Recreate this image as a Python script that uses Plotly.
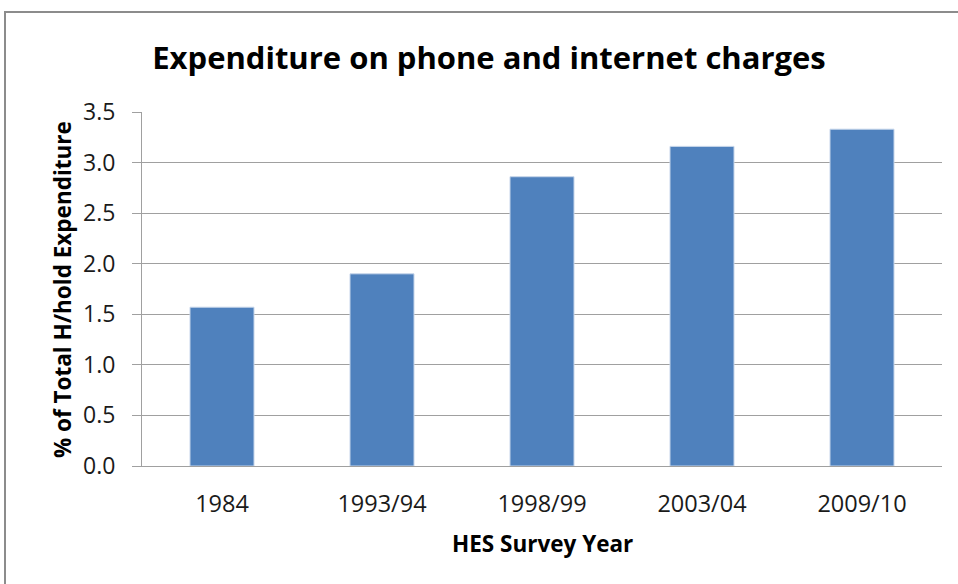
import plotly.graph_objects as go

# Survey years and share of total household expenditure (%)
years = ["1984", "1993/94", "1998/99", "2003/04", "2009/10"]
share_pct = [1.57, 1.90, 2.86, 3.16, 3.33]
y_ticks = [0.0, 0.5, 1.0, 1.5, 2.0, 2.5, 3.0, 3.5]

FONT = "Open Sans, sans-serif"
BAR = "#4F81BD"
GRID = "#a0a0a0"

fig = go.Figure(
    go.Bar(
        x=years,
        y=share_pct,
        marker=dict(color=BAR, line=dict(color="#c6d5ea", width=1)),
        hoverinfo="x+y",
    )
)

fig.update_layout(
    width=958,
    height=584,
    margin=dict(l=142, r=16, t=112, b=118),
    paper_bgcolor="white",
    plot_bgcolor="white",
    bargap=0.6,
    showlegend=False,
    title=dict(
        text="<b>Expenditure on phone and internet charges</b>",
        font=dict(family=FONT, size=31, color="black"),
        x=489 / 958,
        xanchor="center",
        xref="container",
        y=1 - 58 / 584,
        yref="container",
        yanchor="middle",
    ),
    xaxis=dict(
        showline=True,
        linecolor=GRID,
        linewidth=1,
        ticks="",
        tickfont=dict(family=FONT, size=23.5, color="#1a1a1a"),
        ticklabelstandoff=17,
    ),
    yaxis=dict(
        range=[0, 3.5],
        tickvals=y_ticks,
        tickformat=".1f",
        showgrid=True,
        gridcolor=GRID,
        gridwidth=1,
        showline=True,
        linecolor=GRID,
        linewidth=1,
        ticks="outside",
        ticklen=9,
        tickcolor=GRID,
        tickfont=dict(family=FONT, size=23, color="#1a1a1a"),
        ticklabelstandoff=12,
        zeroline=False,
    ),
    annotations=[
        dict(
            text="<b>% of Total H/hold Expenditure</b>",
            xref="paper", yref="paper",
            x=(62 - 142) / 800, y=0.497,
            textangle=-90, showarrow=False,
            xanchor="center", yanchor="middle",
            font=dict(family=FONT, size=22.5, color="black"),
        ),
        dict(
            text="<b>HES Survey Year</b>",
            xref="paper", yref="paper",
            x=0.5, y=(466 - 543) / 354,
            showarrow=False,
            xanchor="center", yanchor="middle",
            font=dict(family=FONT, size=22.5, color="black"),
        ),
    ],
    shapes=[
        # chart frame
        dict(
            type="rect", xref="paper", yref="paper",
            x0=(5 - 142) / 800, x1=(960 - 142) / 800,
            y0=(466 - 600) / 354, y1=(466 - 12) / 354,
            line=dict(color="#8c8c8c", width=2),
            fillcolor="rgba(0,0,0,0)",
            layer="below",
        )
    ],
)

fig.write_html("out.html")
